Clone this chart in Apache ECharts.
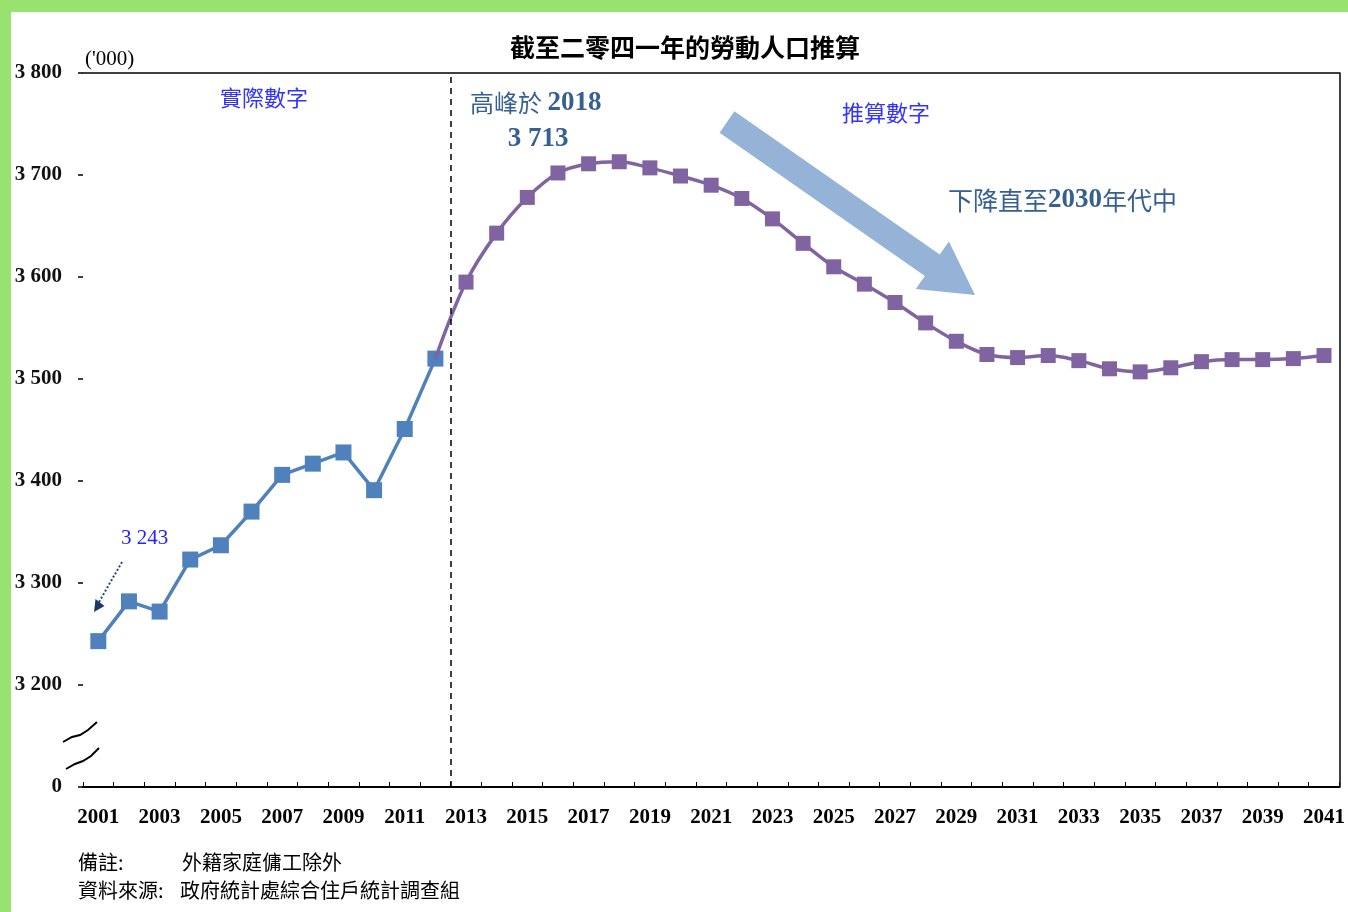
<!DOCTYPE html>
<html>
<head>
<meta charset="utf-8">
<script src="https://cdn.jsdelivr.net/npm/echarts@6/dist/echarts.min.js"></script>
<style>
html,body{margin:0;padding:0;background:#fff;}
#chart{width:1348px;height:912px;}
</style>
</head>
<body>
<div id="chart"></div>
<script>
// ---- data ----
const years = ['2001','2002','2003','2004','2005','2006','2007','2008','2009','2010',
  '2011','2012','2013','2014','2015','2016','2017','2018','2019','2020',
  '2021','2022','2023','2024','2025','2026','2027','2028','2029','2030',
  '2031','2032','2033','2034','2035','2036','2037','2038','2039','2040','2041'];
// 實際數字 2001-2012
const actualValues = [3243,3282,3272,3323,3337,3370,3406,3417,3428,3391,3451,3520];
// 推算數字 2012-2041
const projectedValues = [3520,3595,3643,3678,3702,3711,3713,3707,3699,3690,
  3677,3657,3633,3610,3593,3575,3555,3537,3524,3521,
  3523,3518,3510,3507,3511,3517,3519,3519,3520,3523];
const yTicks = [3100,3200,3300,3400,3500,3600,3700,3800];
const titleText = '截至二零四一年的勞動人口推算';
const unitText = "('000)";
const noteLabel = '備註:', noteText = '外籍家庭傭工除外';
const srcLabel = '資料來源:', srcText = '政府統計處綜合住戶統計調查組';

// build series arrays
const actualSeries = years.map((y,i)=> i < actualValues.length ? actualValues[i] : '-');
const projStart = actualValues.length - 1;
const projSeries = years.map((y,i)=> {
  if (i < projStart) return '-';
  const v = projectedValues[i - projStart];
  if (i === projStart) return {value: v, symbol: 'none'};
  return v;
});

const serif = '"Liberation Serif","Times New Roman",serif';
const cjk = '"Noto Sans CJK TC","Noto Sans CJK SC",sans-serif';

function fmtY(v){
  if (v === yTicks[0]) return '0';
  const s = String(v);
  return s.slice(0, s.length-3) + ' ' + s.slice(-3);
}

const chart = echarts.init(document.getElementById('chart'), null, {renderer:'canvas'});

const option = {
  backgroundColor: '#fff',
  animation: false,
  grid: {left: 83, right: 8, top: 73, bottom: 125, containLabel: false},
  xAxis: [{
    type: 'category',
    data: years,
    boundaryGap: true,
    axisLine: {show: true, lineStyle: {color: '#000', width: 2}},
    axisTick: {show: true, inside: true, length: 5, interval: 0, lineStyle: {color: '#000', width: 1}},
    axisLabel: {interval: 1, margin: 20, color: '#000', fontFamily: serif, fontWeight: 'bold', fontSize: 21},
    splitLine: {show: false}
  }, {
    type: 'value',
    position: 'top',
    min: 2000.5, max: 2041.5,
    axisLine: {show: true, onZero: false, lineStyle: {color: '#000', width: 1.5}},
    axisTick: {show: false}, axisLabel: {show: false}, splitLine: {show: false}
  }],
  yAxis: [{
    type: 'value',
    min: 3100, max: 3800, interval: 100,
    axisLine: {show: false},
    axisTick: {show: true, length: 5, lineStyle: {color: '#000', width: 1.5}},
    axisLabel: {margin: 21, color: '#111', fontFamily: serif, fontWeight: 'bold', fontSize: 21, formatter: fmtY},
    splitLine: {show: false}
  }, {
    type: 'value',
    position: 'right',
    min: 3100, max: 3800,
    axisLine: {show: true, onZero: false, lineStyle: {color: '#000', width: 1.5}},
    axisTick: {show: false}, axisLabel: {show: false}, splitLine: {show: false}
  }],
  series: [{
    name: 'divider',
    type: 'line',
    xAxisIndex: 1, yAxisIndex: 0,
    data: [],
    silent: true,
    markLine: {
      silent: true, symbol: 'none',
      label: {show: false},
      lineStyle: {color: '#000', type: [6, 5], width: 1.5},
      data: [{xAxis: 2012.5}]
    }
  }, {
    name: '推算數字',
    type: 'line',
    data: projSeries,
    smooth: 0.35,
    symbol: 'rect',
    symbolSize: 15,
    z: 4,
    itemStyle: {color: '#8064A2'},
    lineStyle: {color: '#8064A2', width: 3.5}
  }, {
    name: '實際數字',
    type: 'line',
    data: actualSeries,
    symbol: 'rect',
    symbolSize: 16,
    z: 3,
    itemStyle: {color: '#4F81BD'},
    lineStyle: {color: '#4F81BD', width: 3.5}
  }],
  graphic: [
    // green frame
    {type: 'rect', shape: {x: 0, y: 0, width: 1348, height: 12}, style: {fill: '#98E270'}, z: 100},
    {type: 'rect', shape: {x: 0, y: 0, width: 11, height: 912}, style: {fill: '#98E270'}, z: 100},
    // title
    {type: 'text', x: 685, y: 47, style: {text: titleText, font: 'bold 25px ' + cjk, fill: '#000', align: 'center', verticalAlign: 'middle', textAlign: 'center', textVerticalAlign: 'middle'}},
    // unit
    {type: 'text', x: 85, y: 59, style: {text: unitText, font: '21px ' + serif, fill: '#000', align: 'left', verticalAlign: 'middle', textAlign: 'left', textVerticalAlign: 'middle'}},
    // annotations
    {type: 'text', x: 264, y: 98, style: {text: '實際數字', font: '22px ' + cjk, fill: '#3333FF', align: 'center', verticalAlign: 'middle', textAlign: 'center', textVerticalAlign: 'middle'}},
    {type: 'text', x: 886, y: 113, style: {text: '推算數字', font: '22px ' + cjk, fill: '#3333FF', align: 'center', verticalAlign: 'middle', textAlign: 'center', textVerticalAlign: 'middle'}},
    {type: 'text', x: 470, y: 103, style: {
      text: '{a|高峰於 }{b|2018}',
      rich: {a: {font: '24px ' + cjk, fill: '#376092', color: '#376092'}, b: {font: 'bold 27px ' + serif, fill: '#376092', color: '#376092'}},
      align: 'left', verticalAlign: 'middle', textAlign: 'left', textVerticalAlign: 'middle'}},
    {type: 'text', x: 538, y: 139, style: {text: '3 713', font: 'bold 27px ' + serif, fill: '#376092', align: 'center', verticalAlign: 'middle', textAlign: 'center', textVerticalAlign: 'middle'}},
    {type: 'text', x: 948, y: 200, style: {
      text: '{a|下降直至}{b|2030}{a|年代中}',
      rich: {a: {font: '25px ' + cjk, fill: '#376092', color: '#376092'}, b: {font: 'bold 27px ' + serif, fill: '#376092', color: '#376092'}},
      align: 'left', verticalAlign: 'middle', textAlign: 'left', textVerticalAlign: 'middle'}},
    {type: 'text', x: 121, y: 538, style: {text: '3 243', font: '21px ' + serif, fill: '#2222FF', align: 'left', verticalAlign: 'middle', textAlign: 'left', textVerticalAlign: 'middle'}},
    // dotted pointer
    {type: 'line', shape: {x1: 122, y1: 562, x2: 99, y2: 602}, style: {stroke: '#1F497D', lineWidth: 2, lineDash: [2, 2]}},
    {type: 'polygon', shape: {points: [[94, 612], [104.5, 606], [95.5, 599]]}, style: {fill: '#1F3864'}},
    // big arrow
    {type: 'polygon', shape: {points: [[734.4,111.3],[939.7,254.5],[948.9,241.4],[975,295],[915.7,289.0],[924.9,275.9],[719.6,132.7]]},
      style: {fill: '#95B3D7'}},
    // axis break marks
    {type: 'polyline', shape: {points: [[63,742],[72,737],[80,735],[88,730],[97,722]]}, style: {stroke: '#000', lineWidth: 2, fill: null}},
    {type: 'polyline', shape: {points: [[66,769],[75,764],[83,761],[91,756],[99,748]]}, style: {stroke: '#000', lineWidth: 2, fill: null}},
    // footer
    {type: 'text', x: 78, y: 862, style: {text: noteLabel, font: '20px ' + cjk, fill: '#000', align: 'left', verticalAlign: 'middle', textAlign: 'left', textVerticalAlign: 'middle'}},
    {type: 'text', x: 182, y: 862, style: {text: noteText, font: '20px ' + cjk, fill: '#000', align: 'left', verticalAlign: 'middle', textAlign: 'left', textVerticalAlign: 'middle'}},
    {type: 'text', x: 78, y: 890, style: {text: srcLabel, font: '20px ' + cjk, fill: '#000', align: 'left', verticalAlign: 'middle', textAlign: 'left', textVerticalAlign: 'middle'}},
    {type: 'text', x: 180, y: 890, style: {text: srcText, font: '20px ' + cjk, fill: '#000', align: 'left', verticalAlign: 'middle', textAlign: 'left', textVerticalAlign: 'middle'}}
  ]
};
chart.setOption(option);
</script>
</body>
</html>
